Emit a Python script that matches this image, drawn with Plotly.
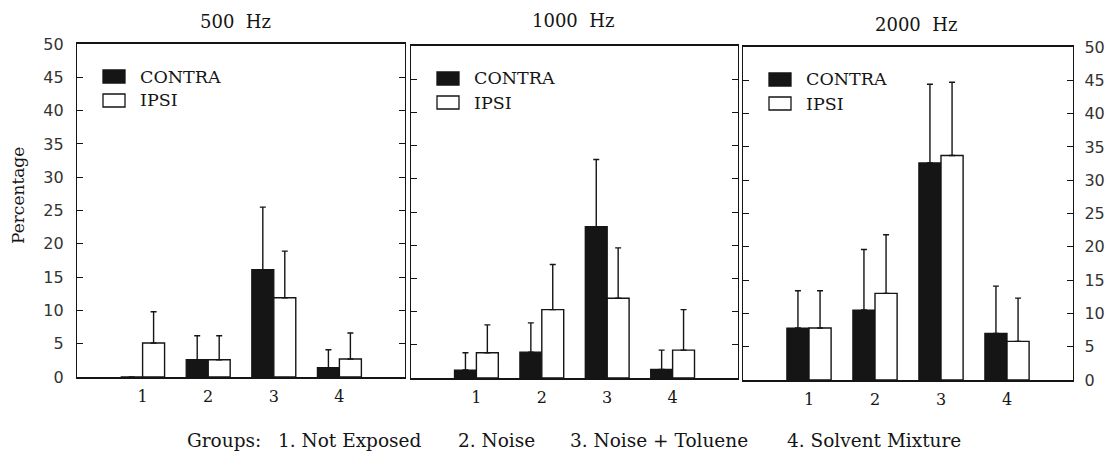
import plotly.graph_objects as go

groups = [1, 2, 3, 4]
group_labels = ["1", "2", "3", "4"]
panel_titles = ["500\u00a0\u00a0Hz", "1000\u00a0\u00a0Hz", "2000\u00a0\u00a0Hz"]
series_names = ["CONTRA", "IPSI"]

# 500 Hz
contra_500 = [0.0, 2.6, 16.1, 1.4]
contra_500_sd = [0.0, 3.6, 9.4, 2.7]
ipsi_500 = [5.1, 2.6, 11.9, 2.7]
ipsi_500_sd = [4.7, 3.6, 7.0, 3.9]
# 1000 Hz
contra_1000 = [1.2, 3.9, 22.8, 1.3]
contra_1000_sd = [2.6, 4.4, 10.1, 2.9]
ipsi_1000 = [3.8, 10.3, 12.0, 4.2]
ipsi_1000_sd = [4.2, 6.8, 7.6, 6.1]
# 2000 Hz
contra_2000 = [7.8, 10.5, 32.6, 7.0]
contra_2000_sd = [5.6, 9.1, 11.8, 7.1]
ipsi_2000 = [7.8, 13.0, 33.7, 5.8]
ipsi_2000_sd = [5.6, 8.8, 11.0, 6.5]

y_ticks = [0, 5, 10, 15, 20, 25, 30, 35, 40, 45, 50]
footer = ["Groups:", "1. Not Exposed", "2. Noise", "3. Noise + Toluene", "4. Solvent Mixture"]

panels = [
    (contra_500, contra_500_sd, ipsi_500, ipsi_500_sd),
    (contra_1000, contra_1000_sd, ipsi_1000, ipsi_1000_sd),
    (contra_2000, contra_2000_sd, ipsi_2000, ipsi_2000_sd),
]

W, H = 1109, 451
ML, MR, MT, MB = 77, 36, 44, 71
PW = W - ML - MR
PH = H - MT - MB


def px(x):
    return (x - ML) / PW


def py(y):
    return (H - MB - y) / PH


# pixel geometry of each panel: left, right, top, bottom
geo = [(77, 405, 44, 377), (411, 738, 46, 378), (743, 1073, 47, 380)]

INK = "#151515"
SERIF = "DejaVu Serif"
SANS = "DejaVu Sans"

fig = go.Figure()
for i, (c, csd, ip, isd) in enumerate(panels):
    n = "" if i == 0 else str(i + 1)
    fig.add_trace(go.Bar(
        x=groups, y=c, name=series_names[0], xaxis="x" + n, yaxis="y" + n,
        marker=dict(color=INK, line=dict(color=INK, width=1.3)),
        error_y=dict(type="data", array=csd, symmetric=False,
                     arrayminus=[0] * 4, color=INK, thickness=1.4, width=3),
        showlegend=False,
    ))
    fig.add_trace(go.Bar(
        x=groups, y=ip, name=series_names[1], xaxis="x" + n, yaxis="y" + n,
        marker=dict(color="white", line=dict(color=INK, width=1.4)),
        error_y=dict(type="data", array=isd, symmetric=False,
                     arrayminus=[0] * 4, color=INK, thickness=1.4, width=3),
        showlegend=False,
    ))

layout = dict(
    width=W, height=H,
    margin=dict(l=ML, r=MR, t=MT, b=MB, autoexpand=False),
    paper_bgcolor="white", plot_bgcolor="white",
    barmode="group", bargap=0.33, bargroupgap=0,
    showlegend=False,
)

for i, (l, r, t, b) in enumerate(geo):
    n = "" if i == 0 else str(i + 1)
    xd = [px(l), px(r)]
    yd = [max(0, py(b)), min(1, py(t))]
    layout["xaxis" + n] = dict(
        domain=xd, range=[0, 5], anchor="y" + n, automargin=False,
        tickvals=groups, ticktext=group_labels, ticks="",
        ticklabelstandoff=4,
        showline=True, linecolor=INK, linewidth=1.6, mirror=True,
        showgrid=False, zeroline=False, fixedrange=True,
        tickfont=dict(family=SERIF, size=16, color=INK),
    )
    layout["yaxis" + n] = dict(
        domain=yd, range=[0, 50], anchor="x" + n, automargin=False,
        side="right" if i == 2 else "left",
        tickvals=y_ticks, ticks="inside", ticklen=6, tickwidth=1.2,
        tickcolor=INK, showticklabels=(i != 1),
        ticklabelstandoff=(9 if i == 0 else 7),
        showline=True, linecolor=INK, linewidth=1.4, mirror="ticks",
        showgrid=False, zeroline=False,
        tickfont=dict(family=SANS, size=16, color="#333333"),
    )

annotations = []
shapes = []
title_pos = [(235, 21), (573, 20), (916, 25)]
for i, (tx, ty) in enumerate(title_pos):
    annotations.append(dict(
        text=panel_titles[i], x=px(tx), y=py(ty), xref="paper", yref="paper",
        showarrow=False, xanchor="center", yanchor="middle",
        font=dict(family=SERIF, size=18, color=INK),
    ))

# legends inside each panel
for i, (l, r, t, b) in enumerate(geo):
    sx0, sx1 = l + 26, l + 48
    rows = [(t + 26, t + 39, series_names[0], INK), (t + 50, t + 63, series_names[1], "white")]
    for (y0, y1, label, fill) in rows:
        shapes.append(dict(type="rect", xref="paper", yref="paper",
                           x0=px(sx0), x1=px(sx1), y0=py(y1), y1=py(y0),
                           fillcolor=fill, line=dict(color=INK, width=1.3)))
        annotations.append(dict(
            text=label, x=px(l + 61), y=py((y0 + y1) / 2), xref="paper", yref="paper",
            showarrow=False, xanchor="left", yanchor="middle",
            font=dict(family=SERIF, size=17.5, color=INK),
        ))

annotations.append(dict(
    text="Percentage", x=px(18), y=py(196), xref="paper", yref="paper",
    showarrow=False, textangle=-90, xanchor="center", yanchor="middle",
    font=dict(family=SERIF, size=17, color=INK),
))

footer_x = [185, 276, 456, 568, 785]
for txt, fx in zip(footer, footer_x):
    annotations.append(dict(
        text=txt, x=px(fx), y=py(440), xref="paper", yref="paper",
        showarrow=False, xanchor="left", yanchor="middle",
        font=dict(family=SERIF, size=18.5, color=INK),
    ))

layout["annotations"] = annotations
layout["shapes"] = shapes
fig.update_layout(**layout)
fig.write_html("out.html")
